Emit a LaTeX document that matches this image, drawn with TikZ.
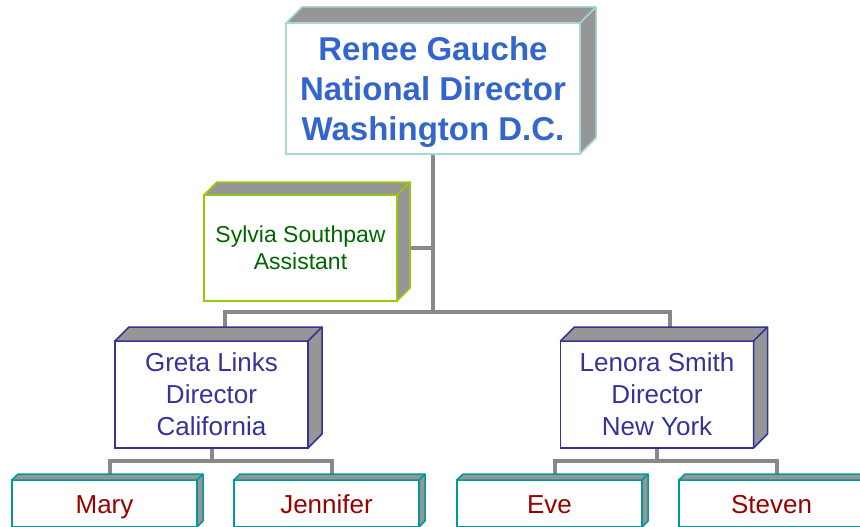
\documentclass[tikz,border=0pt]{standalone}
\usepackage{fontspec}
\setmainfont{Liberation Sans}
\usetikzlibrary{backgrounds}
\definecolor{headblue}{HTML}{3366CC}
\definecolor{headedge}{HTML}{A6D8D8}
\definecolor{asstgreen}{HTML}{006600}
\definecolor{asstedge}{HTML}{99CC00}
\definecolor{dirblue}{HTML}{333399}
\definecolor{staffred}{HTML}{990000}
\definecolor{staffedge}{HTML}{009999}
\definecolor{sidegray}{HTML}{969696}
\definecolor{wiregray}{HTML}{888888}

\begin{document}
\begin{tikzpicture}[x=1pt,y=-1pt,
  card/.style={draw,fill=white,line width=1.5pt,inner sep=0pt,outer sep=0pt,align=center},
  head/.style={card,draw=headedge,text=headblue,minimum width=294pt,minimum height=131pt,text depth=0pt,font=\fontsize{33}{40}\selectfont\bfseries},
  asst/.style={card,draw=asstedge,text=asstgreen,minimum width=193pt,minimum height=106pt,font=\fontsize{23}{27}\selectfont},
  dir/.style={card,draw=dirblue,text=dirblue,minimum width=193pt,minimum height=107pt,font=\fontsize{26}{32}\selectfont},
  staff/.style={card,draw=staffedge,text=staffred,minimum width=185pt,minimum height=47pt,text height=19pt,text depth=0pt,font=\fontsize{26}{30}\selectfont},
  wire/.style={draw=wiregray,line width=4pt}]
\useasboundingbox (0,0) rectangle (860,527);
\clip (0,0) rectangle (860,527);

\node[head] (top) at (433,88.5) {Renee Gauche\\National Director\\Washington D.C.};
\node[asst] (asst) at (300.5,248) {Sylvia Southpaw\\Assistant};
\node[dir] (greta) at (211.5,394.5) {Greta Links\\Director\\California};
\node[dir] (lenora) at (657,394.5) {Lenora Smith\\Director\\New York};
\node[staff] (mary) at (104.5,503.5) {Mary};
\node[staff] (jennifer) at (326.5,503.5) {Jennifer};
\node[staff] (eve) at (549.5,503.5) {Eve};
\node[staff] (steven) at (771.5,503.5) {Steven};

\foreach \n/\d/\c in {top/16/headedge,asst/13/asstedge,greta/14/dirblue,lenora/14/dirblue,
  mary/6/staffedge,jennifer/6/staffedge,eve/6/staffedge,steven/6/staffedge}{
  \filldraw[fill=sidegray,draw=\c,line width=1.5pt,line join=round]
    (\n.north west) -- ++(\d,-\d) -- ([shift={(\d,-\d)}]\n.north east)
    -- ([shift={(\d,-\d)}]\n.south east) -- (\n.south east) -- (\n.north east) -- cycle;
  \draw[draw=\c,line width=1.5pt] (\n.north east) -- ++(\d,-\d);
}

\begin{scope}[on background layer]
\coordinate (hub) at (top.south |- 0,312);
\coordinate (gsplit) at (greta.south |- 0,461);
\coordinate (lsplit) at (lenora.south |- 0,461);
\draw[wire] (top.south) -- (hub);
\draw[wire] (asst.east) -- (asst.east -| hub);
\draw[wire] ([xshift=13.5pt]greta.north) |- (hub) -| ([xshift=13pt]lenora.north);
\draw[wire] (greta.south) -- (gsplit);
\draw[wire] ([xshift=5pt]mary.north) |- (gsplit) -| ([xshift=5pt]jennifer.north);
\draw[wire] (lenora.south) -- (lsplit);
\draw[wire] ([xshift=5pt]eve.north) |- (lsplit) -| ([xshift=5pt]steven.north);
\end{scope}
\end{tikzpicture}
\end{document}
